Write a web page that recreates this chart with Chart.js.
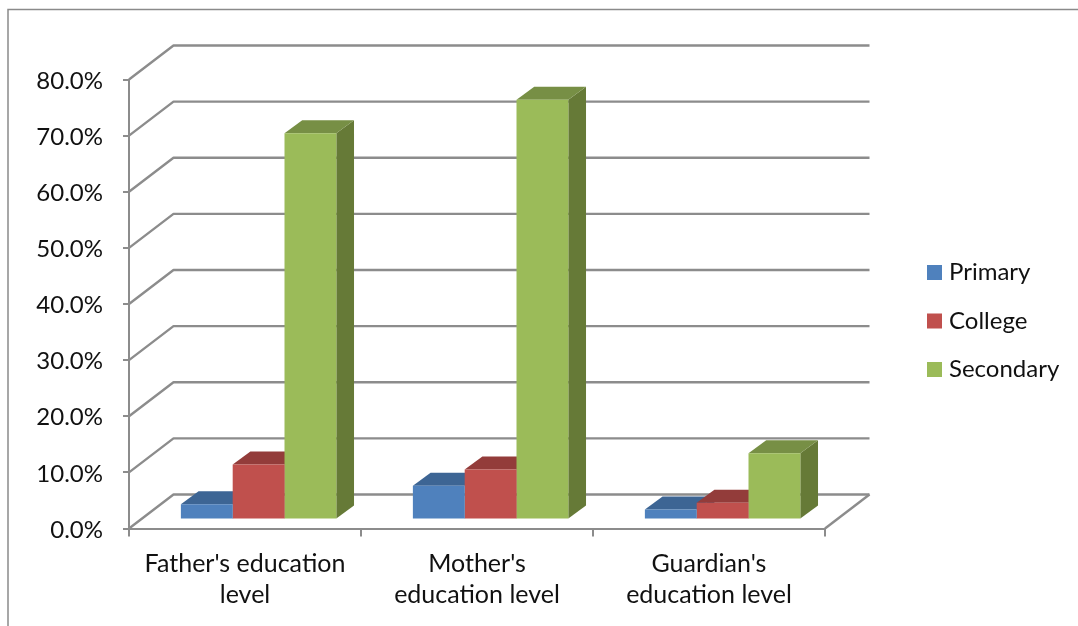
<!DOCTYPE html>
<html>
<head>
<meta charset="utf-8">
<title>Education level</title>
<script src="https://cdn.jsdelivr.net/npm/chart.js@4/dist/chart.umd.min.js"></script>
<style>
  html, body { margin: 0; background: #fff; }
  canvas { display: block; }
</style>
</head>
<body>
<canvas id="chart" width="1078" height="626"></canvas>
<script>
const categories = [
  ["Father's education", 'level'],
  ["Mother's", 'education level'],
  ["Guardian's", 'education level']
];
const seriesNames = ['Primary', 'College', 'Secondary'];
const primary = [2.7, 6.0, 1.8];
const college = [9.8, 8.9, 3.0];
const secondary = [68.8, 74.8, 11.8];

const FRONT = ['#4f81bd', '#c0504d', '#9bbb59'];
const TOP = ['#3d6594', '#933c3a', '#778f45'];
const SIDE = ['#3a5f8b', '#8a3a38', '#667a37'];
const LINE = '#8c8c8c';
const TEXT = '#111';
const FONT = 'Lato, Carlito, sans-serif';

// wall depth, where the bars stand on the floor, and how deep they are
const WALL = { x: 44.5, y: -34 };
const STAND = { x: 13.6, y: -9 };
const BAR = { x: 17.7, y: -13 };

function poly(ctx, pts, fill) {
  ctx.beginPath();
  pts.forEach((p, i) => i ? ctx.lineTo(p[0], p[1]) : ctx.moveTo(p[0], p[1]));
  ctx.closePath();
  ctx.fillStyle = fill;
  ctx.fill();
}

const frame = {
  id: 'frame',
  beforeDraw(chart) {
    const { ctx, width, height } = chart;
    ctx.save();
    ctx.strokeStyle = '#8a8a8a';
    ctx.lineWidth = 1.5;
    ctx.beginPath();
    ctx.moveTo(8, height);
    ctx.lineTo(8, 9.5);
    ctx.lineTo(width, 9.5);
    ctx.stroke();
    ctx.restore();
  }
};

const walls = {
  id: 'walls',
  beforeDatasetsDraw(chart) {
    const { ctx, scales: { x, y } } = chart;
    ctx.save();
    ctx.strokeStyle = LINE;
    ctx.lineWidth = 2.4;
    ctx.lineJoin = 'round';
    y.ticks.forEach(t => {
      const py = y.getPixelForValue(t.value);
      ctx.beginPath();
      ctx.moveTo(x.left, py);
      ctx.lineTo(x.left + WALL.x, py + WALL.y);
      ctx.lineTo(x.right + WALL.x, py + WALL.y);
      ctx.stroke();
    });
    // right edge of the floor
    ctx.beginPath();
    ctx.moveTo(x.right, y.bottom);
    ctx.lineTo(x.right + WALL.x, y.bottom + WALL.y);
    ctx.stroke();
    ctx.restore();
  }
};

// tops and sides go down first, the library then paints the front faces over them
const bars3d = {
  id: 'bars3d',
  beforeDatasetsDraw(chart) {
    const { ctx } = chart;
    ctx.save();
    ctx.translate(STAND.x, STAND.y);
    chart.data.datasets.forEach((ds, i) => {
      chart.getDatasetMeta(i).data.forEach(bar => {
        const l = bar.x - bar.width / 2, r = bar.x + bar.width / 2;
        poly(ctx, [[r, bar.y], [r + BAR.x, bar.y + BAR.y], [r + BAR.x, bar.base + BAR.y], [r, bar.base]], SIDE[i]);
        poly(ctx, [[l, bar.y], [l + BAR.x, bar.y + BAR.y], [r + BAR.x, bar.y + BAR.y], [r, bar.y]], TOP[i]);
      });
    });
  },
  afterDatasetsDraw(chart) {
    chart.ctx.restore();
  }
};

const sideLegend = {
  id: 'sideLegend',
  afterDraw(chart) {
    const { ctx } = chart;
    ctx.save();
    ctx.font = '24px ' + FONT;
    ctx.textBaseline = 'middle';
    chart.data.datasets.forEach((ds, i) => {
      const cy = 272.5 + i * 48.5;
      ctx.fillStyle = ds.backgroundColor;
      ctx.fillRect(927, cy - 7.5, 15, 15);
      ctx.fillStyle = TEXT;
      ctx.fillText(ds.label, 949, cy);
    });
    ctx.restore();
  }
};

const makeSet = (label, data, color) => ({
  label, data, backgroundColor: color, borderWidth: 0, clip: false,
  categoryPercentage: 0.67, barPercentage: 1
});

const canvas = document.getElementById('chart');
// a little tracking also keeps Lato from joining "ti" into a ligature
canvas.getContext('2d').letterSpacing = '0.3px';

new Chart(canvas, {
  type: 'bar',
  data: {
    labels: categories,
    datasets: [
      makeSet(seriesNames[0], primary, FRONT[0]),
      makeSet(seriesNames[1], college, FRONT[1]),
      makeSet(seriesNames[2], secondary, FRONT[2])
    ]
  },
  plugins: [frame, walls, bars3d, sideLegend],
  options: {
    responsive: false,
    animation: false,
    layout: { padding: { left: 0, right: 253, top: 79.5, bottom: 0 } },
    plugins: { legend: { display: false }, tooltip: { enabled: false } },
    scales: {
      x: {
        afterFit: s => { s.height = 97.5; },
        border: { color: LINE, width: 2 },
        grid: { drawOnChartArea: false, color: LINE, tickLength: 8, lineWidth: 2 },
        ticks: {
          color: TEXT, padding: 12, maxRotation: 0, autoSkip: false,
          font: { family: FONT, size: 25, lineHeight: 1.25 }
        }
      },
      y: {
        min: 0, max: 80,
        afterFit: s => { s.width = 129; },
        border: { color: LINE, width: 2 },
        grid: { drawOnChartArea: false, color: LINE, tickLength: 6, lineWidth: 2 },
        ticks: {
          stepSize: 10, color: TEXT, padding: 20, labelOffset: 1.5,
          font: { family: FONT, size: 24 },
          callback: v => v.toFixed(1) + '%'
        }
      }
    }
  }
});
</script>
</body>
</html>
